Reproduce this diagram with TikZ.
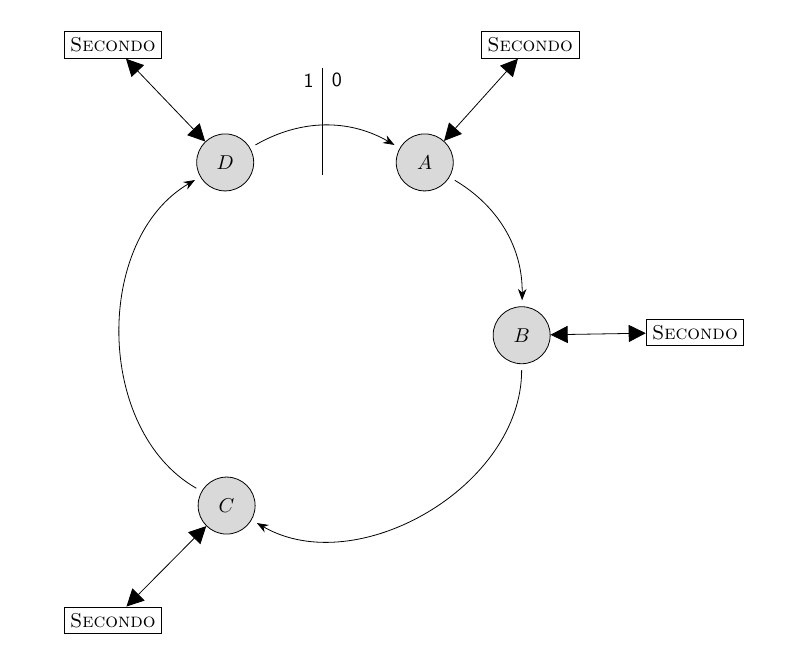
\documentclass[tikz,border=0pt]{standalone}
\usepackage{tikz}
\usetikzlibrary{arrows.meta,positioning}
\tikzset{
  station/.style={circle, draw, fill=gray!30, minimum size=1cm, inner sep=0},
  secondo/.style={rectangle, draw, inner sep=3pt},
  ring/.style={-{Stealth[length=2mm]}, shorten <=3pt, shorten >=3pt},
  link/.style={{Triangle[length=3mm,width=3mm]}-{Triangle[length=3mm,width=3mm]}}
}
\begin{document}
\begin{tikzpicture}
  \useasboundingbox (-5.70,-5.81) rectangle (8.42,5.88);

  % Nodes
  \node [station] (D) at (120:3.5) {$D$};
  \node [station] (A) at (60:3.5) {$A$};
  \node [station] (B) at (0:3.45) {$B$};
  \node [station] (C) at (240:3.45) {$C$};

  \node [secondo] (sD) at (-3.72,5.09) {\textsc{Secondo}};
  \node [secondo] (sA) at (3.60,5.09) {\textsc{Secondo}};
  \node [secondo] (sB) at (6.49,0.05) {\textsc{Secondo}};
  \node [secondo] (sC) at (-3.72,-5.0) {\textsc{Secondo}};

  \coordinate (top) at (-0.04,4.68);
  \coordinate (bot) at (-0.04,2.81);
  \node [font=\sffamily, left=1pt] (one) at (-0.04,4.47) {1};
  \node [font=\sffamily, right=1pt] (zero) at (-0.04,4.47) {0};

  % Arrows
  \draw[ring] (D) to[bend left=30] (A);
  \draw[ring] (A) to[bend left=30] (B);
  \draw[ring] (B) to[bend left=60] (C);
  \draw[ring] (C) to[bend left=60] (D);
  \draw[thick] (top) -- (bot);

  \draw[link] (sD) -- (D);
  \draw[link] (sA) -- (A);
  \draw[link] (sB) -- (B);
  \draw[link] (sC) -- (C);
\end{tikzpicture}
\end{document}
